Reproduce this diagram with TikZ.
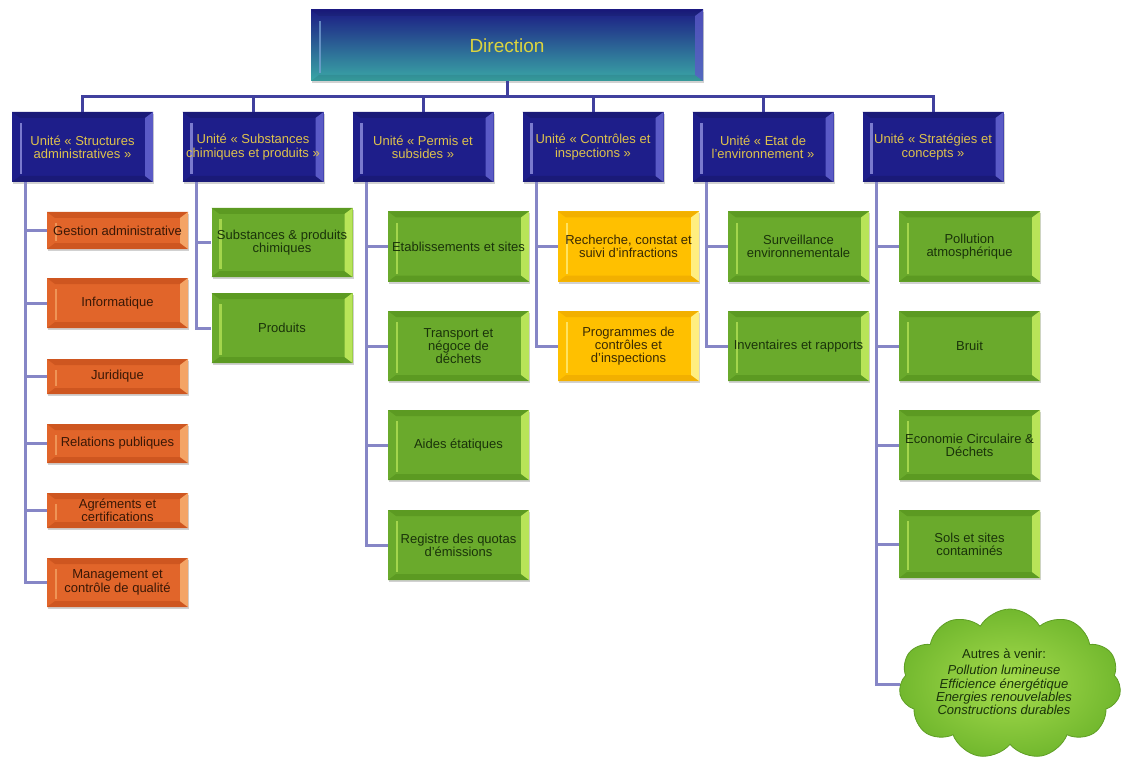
\documentclass[tikz,border=0pt]{standalone}
\usepackage{fontspec}
\setmainfont{Liberation Sans}
\usetikzlibrary{calc,shapes.symbols,shadows}
\definecolor{conncol}{HTML}{8686C6}
\definecolor{topconn}{HTML}{40409E}
\definecolor{unitmain}{HTML}{1E1E8A}
\definecolor{unitlight}{HTML}{5A5AC6}
\definecolor{unitline}{HTML}{9A9AE6}
\definecolor{unitdark}{HTML}{1A1A78}
\definecolor{unittext}{HTML}{DEC24C}
\definecolor{dirtop}{HTML}{1C1C84}
\definecolor{dirbot}{HTML}{3AA8A6}
\definecolor{dirtext}{HTML}{DCD43E}
\definecolor{ormain}{HTML}{E1652A}
\definecolor{orlight}{HTML}{F4A466}
\definecolor{ordark}{HTML}{CE5620}
\definecolor{ortext}{HTML}{3A1806}
\definecolor{grmain}{HTML}{6AAA2C}
\definecolor{grlight}{HTML}{B8E458}
\definecolor{grdark}{HTML}{5C9A22}
\definecolor{grtext}{HTML}{1A330A}
\definecolor{yemain}{HTML}{FFC000}
\definecolor{yelight}{HTML}{FFEE80}
\definecolor{yedark}{HTML}{F2B000}
\definecolor{yetext}{HTML}{3A2A04}
\definecolor{clmain}{HTML}{72B82E}
\definecolor{cledge}{HTML}{5E9E24}
\definecolor{cllight}{HTML}{A6DC4E}
\begin{document}
\begin{tikzpicture}[x=1pt,y=-1pt,
  conn/.style={draw=conncol, line width=3pt},
  tconn/.style={draw=topconn, line width=3pt},
  txt/.style={font=\fontsize{13}{13.3}\selectfont, align=center, inner sep=1pt},
  shad/.style={drop shadow={fill=black, opacity=0.18, shadow xshift=1.2pt, shadow yshift=-2pt}},
  bevel/.style n args={3}{path picture={
    \path (path picture bounding box.south west) coordinate (bsw)
          (path picture bounding box.north east) coordinate (bne);
    \fill[#2] (bsw|-bne) -- ($(bsw|-bne)+(8pt,-6pt)$) -- ($(bne)+(-8pt,-6pt)$) -- (bne) -- cycle;
    \fill[#2] (bsw) -- ($(bsw)+(8pt,6pt)$) -- ($(bne|-bsw)+(-8pt,6pt)$) -- (bne|-bsw) -- cycle;
    \fill[#1] (bne) -- ($(bne)+(-8pt,-6pt)$) -- ($(bne|-bsw)+(-8pt,6pt)$) -- (bne|-bsw) -- cycle;
    \draw[#3, line width=2.2pt, draw opacity=0.75] ($(bsw)+(9pt,8pt)$) -- ($(bsw|-bne)+(9pt,-11pt)$);
  }},
  dirbox/.style={minimum width=392pt, minimum height=71pt, top color=dirtop, bottom color=dirbot,
    bevel={{unitlight,fill opacity=0.8}}{{black,fill opacity=0.08}}{{cyan!30!unitline}}, text=dirtext,
    font=\fontsize{19}{20}\selectfont},
  unitbox/.style={txt, shad, minimum width=141pt, minimum height=70pt, fill=unitmain,
    bevel={unitlight}{unitdark}{unitline}, text=unittext},
  orbox/.style={txt, shad, minimum width=141pt, fill=ormain, bevel={orlight}{ordark}{orlight}, text=ortext},
  grbox/.style={txt, shad, minimum width=141pt, minimum height=70pt, fill=grmain, bevel={grlight}{grdark}{grlight}, text=grtext},
  yebox/.style={txt, shad, minimum width=141pt, minimum height=70pt, fill=yemain, bevel={yelight}{yedark}{yelight}, text=yetext},
  cloudshape/.style={cloud, cloud puffs=11, cloud puff arc=120, aspect=1.55, inner sep=0pt,
    minimum width=222pt, minimum height=150pt, inner color=cllight, outer color=clmain, draw=cledge, line width=0.8pt},
]
\useasboundingbox (0,0) rectangle (1124,762);

% Direction
\node[dirbox, shad] (dir) at (507,45.5) {Direction};
\coordinate (bus) at (507,97);

% Units
\node[unitbox] (u1) at (82.5,147) {Unité « Structures\\administratives »};
\node[unitbox] (u2) at (253,147) {Unité « Substances\\chimiques et produits  »};
\node[unitbox] (u3) at (423,147) {Unité « Permis et\\subsides »};
\node[unitbox] (u4) at (593,147) {Unité « Contrôles et\\inspections »};
\node[unitbox] (u5) at (763,147) {Unité « Etat de\\l'environnement »};
\node[unitbox] (u6) at (933,147) {Unité « Stratégies et\\concepts »};

% Column 1 (orange)
\node[orbox, minimum height=37pt] (a1) at (117.5,230.5) {Gestion administrative};
\node[orbox, minimum height=50pt] (a2) at (117.5,303) {Informatique};
\node[orbox, minimum height=35pt] (a3) at (117.5,376.5) {Juridique};
\node[orbox, minimum height=39pt] (a4) at (117.5,443.5) {Relations publiques};
\node[orbox, minimum height=35pt] (a5) at (117.5,510.5) {Agréments et\\certifications};
\node[orbox, minimum height=49pt] (a6) at (117.5,582.5) {Management et\\contrôle de qualité};

% Column 2
\node[grbox, minimum height=69pt] (b1) at (282,242.5) {Substances \& produits\\chimiques};
\node[grbox] (b2) at (282,328) {Produits};

% Column 3
\node[grbox] (c1) at (458.5,246.5) {Etablissements et sites};
\node[grbox] (c2) at (458.5,346) {Transport et\\négoce de\\déchets};
\node[grbox] (c3) at (458.5,445) {Aides étatiques};
\node[grbox] (c4) at (458.5,545) {Registre des quotas\\d'émissions};

% Column 4 (yellow)
\node[yebox] (d1) at (628.5,246.5) {Recherche, constat et\\suivi d'infractions};
\node[yebox] (d2) at (628.5,346) {Programmes de\\contrôles et\\d'inspections};

% Column 5
\node[grbox] (e1) at (798.5,246.5) {Surveillance\\environnementale};
\node[grbox] (e2) at (798.5,346) {Inventaires et rapports};

% Column 6
\node[grbox] (f1) at (969.5,246.5) {Pollution\\atmosphérique};
\node[grbox] (f2) at (969.5,346) {Bruit};
\node[grbox] (f3) at (969.5,445) {Economie Circulaire \&\\Déchets};
\node[grbox, minimum height=68pt] (f4) at (969.5,544) {Sols et sites\\contaminés};

% Cloud
\node[cloudshape] (cl) at (1010,684) {};
\node[txt, text=grtext] (cltxt) at (1004,682) {Autres à venir:\\[3pt]\itshape Pollution lumineuse\\\itshape Efficience énergétique\\\itshape Energies renouvelables\\\itshape Constructions durables};

% Connectors
\draw[tconn] (dir.south) -- (bus);
\foreach \u in {u1,u2,u3,u4,u5,u6} {\draw[tconn] (\u.north) |- (bus);}
\foreach \c in {a1,a2,a3,a4,a5,a6} {\draw[conn] (u1.south west) ++(14pt,0) |- (\c.west);}
\foreach \c in {b1,b2} {\draw[conn] (u2.south west) ++(14pt,0) |- (\c.west);}
\foreach \c in {c1,c2,c3,c4} {\draw[conn] (u3.south west) ++(14pt,0) |- (\c.west);}
\foreach \c in {d1,d2} {\draw[conn] (u4.south west) ++(14pt,0) |- (\c.west);}
\foreach \c in {e1,e2} {\draw[conn] (u5.south west) ++(14pt,0) |- (\c.west);}
\foreach \c in {f1,f2,f3,f4,cl} {\draw[conn] (u6.south west) ++(14pt,0) |- (\c.west);}
\end{tikzpicture}
\end{document}
